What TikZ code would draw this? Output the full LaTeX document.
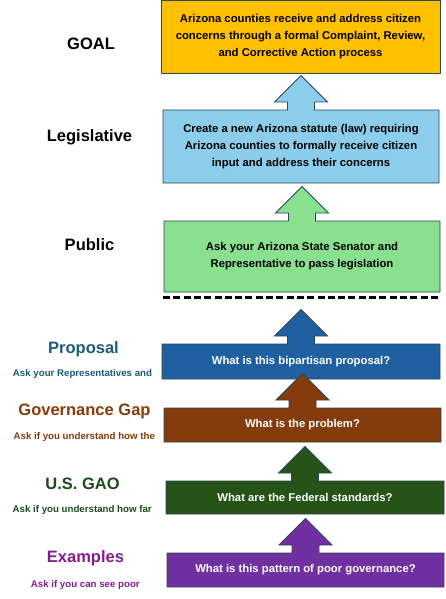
\documentclass[tikz,border=0pt]{standalone}
\usepackage{fontspec}
\setmainfont{Liberation Sans}
\usetikzlibrary{calc,backgrounds}
\definecolor{outlc}{HTML}{2C4658}
\definecolor{goalfill}{HTML}{FFC000}
\definecolor{legfill}{HTML}{8CCDEB}
\definecolor{pubfill}{HTML}{89E08F}
\definecolor{propfill}{HTML}{2160A0}
\definecolor{govfill}{HTML}{843C0C}
\definecolor{gaofill}{HTML}{265317}
\definecolor{exfill}{HTML}{7030A0}
\definecolor{proptxt}{HTML}{1F5A78}
\definecolor{govtxt}{HTML}{843C0C}
\definecolor{gaotxt}{HTML}{1E4A1E}
\definecolor{extxt}{HTML}{851C8C}
\newcommand\lvlshape[2]{%
  \filldraw[outl, fill=#2] (#1.north west) -- ($(#1.north)+(-13.5,0)$) -- ++(0,-8) -- ++(-13,0)
    -- ($(#1.north)+(0,-34.5)$) -- ($(#1.north)+(26.5,-8)$) -- ($(#1.north)+(13.5,-8)$)
    -- ($(#1.north)+(13.5,0)$) -- (#1.north east) -- (#1.south east) -- (#1.south west) -- cycle;}
\begin{document}
\begin{tikzpicture}[x=1pt,y=-1pt,
  outl/.style={draw=outlc, line width=0.9pt, line join=miter},
  boxnode/.style={inner sep=0pt, outer sep=0pt, align=center, font=\bfseries\fontsize{11.3}{17}\selectfont},
  title/.style={anchor=base, font=\bfseries\fontsize{16.5}{18}\selectfont},
  sub/.style={anchor=base, font=\bfseries\fontsize{9.7}{11}\selectfont}]
\useasboundingbox (0,0) rectangle (445,599);

% boxes
\node[boxnode, minimum width=279pt, minimum height=72.5pt] (goal) at (300.5,36.75)
  {Arizona counties receive and address citizen\\concerns through a formal Complaint, Review,\\and Corrective Action process};
\node[boxnode, minimum width=276pt, minimum height=73pt] (leg) at (301,146.5)
  {Create a new Arizona statute (law) requiring\\Arizona counties to formally receive citizen\\input and address their concerns};
\node[boxnode, minimum width=276pt, minimum height=71pt] (pub) at (302,256.5)
  {Ask your Arizona State Senator and\\Representative to pass legislation};
\node[boxnode, text=white, minimum width=278pt, minimum height=35pt] (prop) at (301,361.5)
  {What is this bipartisan proposal?};
\node[boxnode, text=white, minimum width=277pt, minimum height=34pt] (gov) at (302.5,425)
  {What is the problem?};
\node[boxnode, text=white, minimum width=278pt, minimum height=33pt] (gao) at (305,497.5)
  {What are the Federal standards?};
\node[boxnode, text=white, minimum width=277pt, minimum height=34pt] (ex) at (305.5,570)
  {What is this pattern of poor governance?};

\begin{pgfonlayer}{background}
  \fill[white] (0,0) rectangle (445,599);
  \filldraw[outl, fill=goalfill] (goal.north west) rectangle (goal.south east);
  \lvlshape{leg}{legfill}
  \lvlshape{pub}{pubfill}
  \lvlshape{prop}{propfill}
  \lvlshape{gov}{govfill}
  \lvlshape{gao}{gaofill}
  \lvlshape{ex}{exfill}
\end{pgfonlayer}

% dashed separator
\coordinate (dl) at (163,297);
\coordinate (dr) at (438,297);
\draw[line width=3pt, dash pattern=on 7pt off 3.3pt] (dl) -- (dr);

% left labels
\node[title] (tgoal) at (91,49.3) {GOAL};
\node[title] (tleg) at (89.5,141.7) {Legislative};
\node[title] (tpub) at (89.5,250) {Public};
\node[title, text=proptxt] (tprop) at (83.5,353.3) {Proposal};
\node[sub, text=proptxt] (sprop) at (82.5,376.7) {Ask your Representatives and};
\node[title, text=govtxt] (tgov) at (84.5,415.7) {Governance Gap};
\node[sub, text=govtxt] (sgov) at (84.3,439) {Ask if you understand how the};
\node[title, text=gaotxt] (tgao) at (82.5,489.3) {U.S. GAO};
\node[sub, text=gaotxt] (sgao) at (82.2,512.3) {Ask if you understand how far};
\node[title, text=extxt] (tex) at (85.5,562.7) {Examples};
\node[sub, text=extxt] (sex) at (85.3,587.3) {Ask if you can see poor};
\end{tikzpicture}
\end{document}
